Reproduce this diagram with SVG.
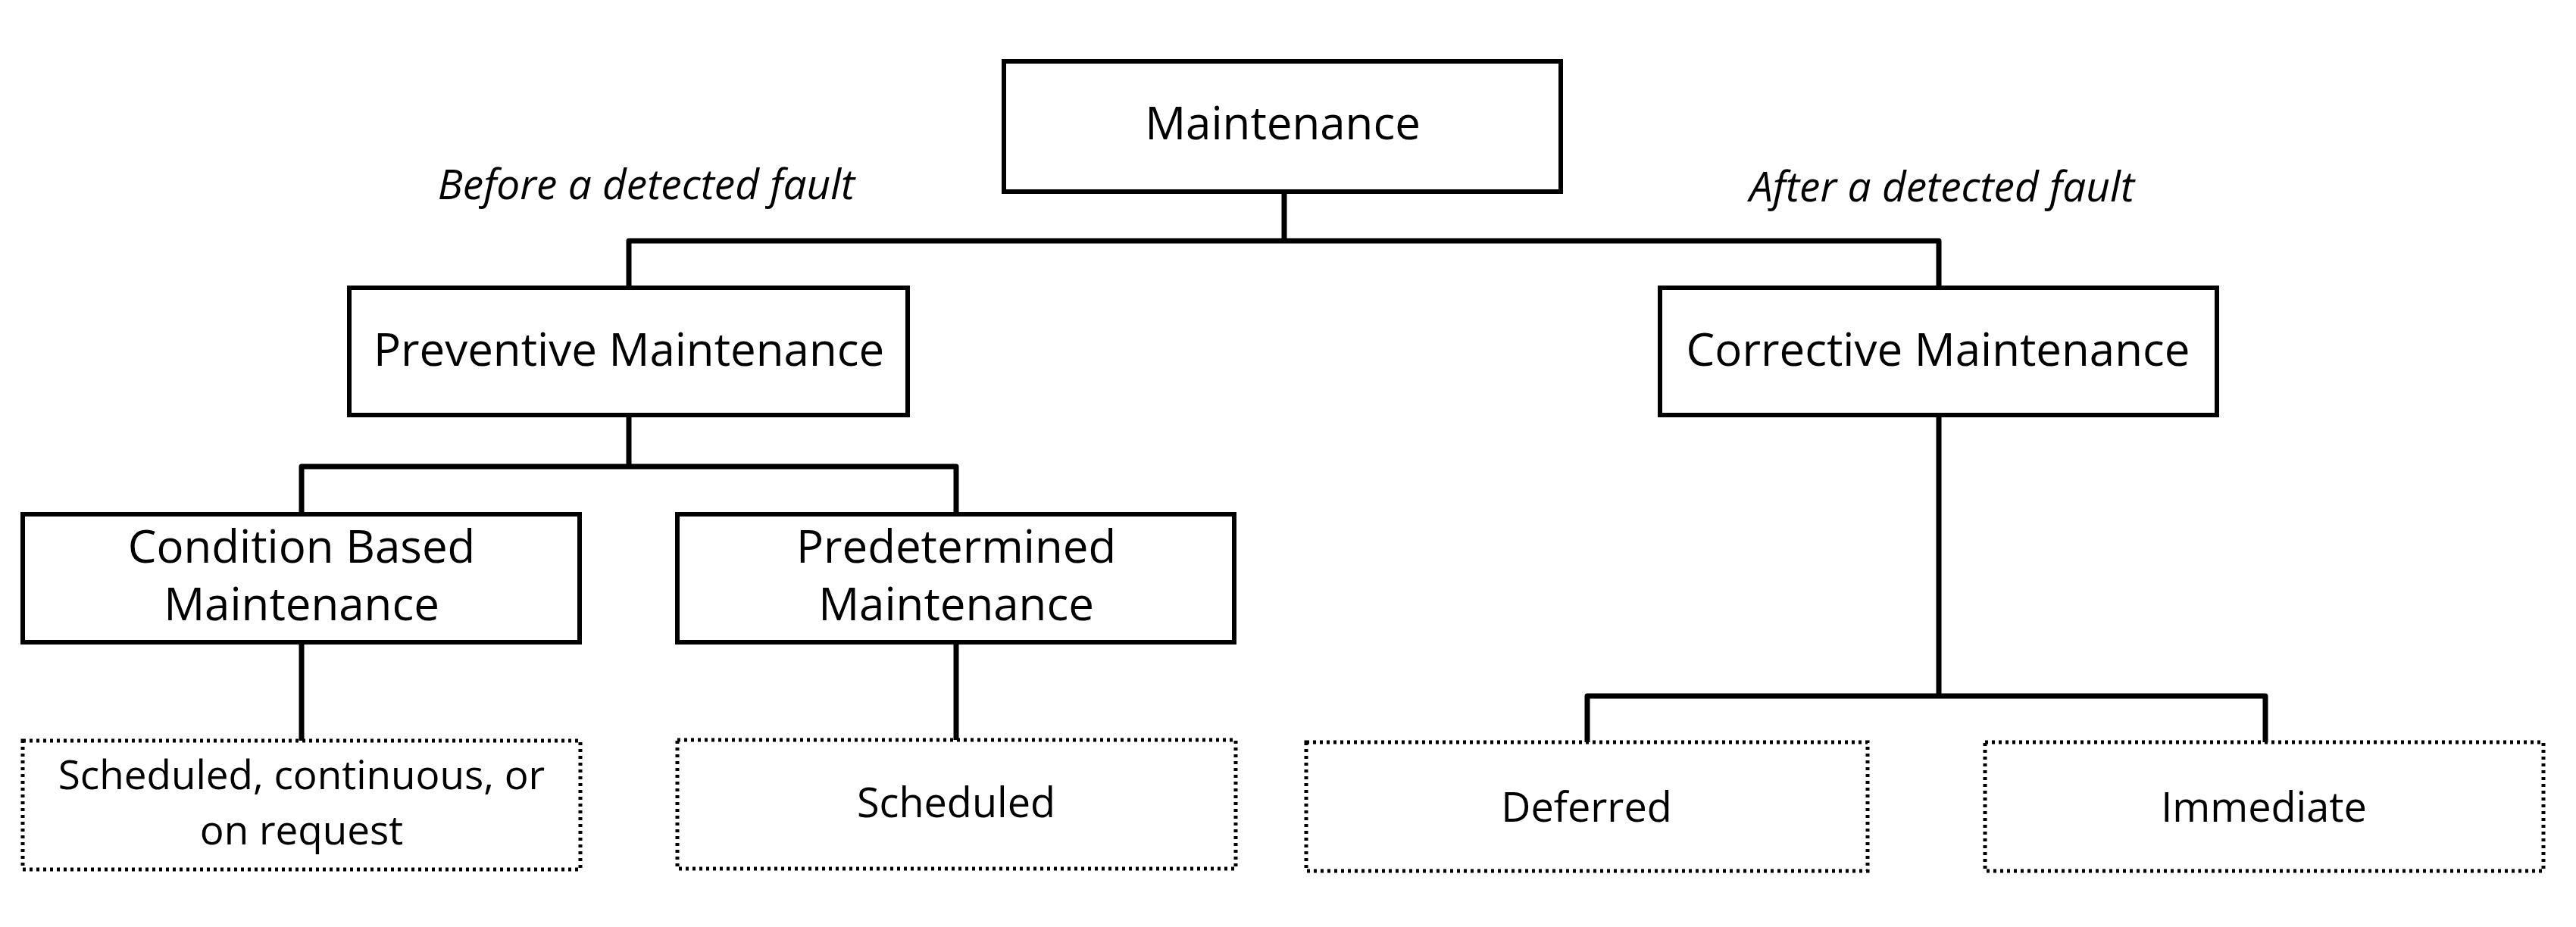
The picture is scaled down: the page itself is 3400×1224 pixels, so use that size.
<svg xmlns="http://www.w3.org/2000/svg" width="3400" height="1224" viewBox="0 0 3400 1224">
<style>
  .box { fill: #fff; stroke: #000; stroke-width: 6; }
  .dot { fill: #fff; stroke: #000; stroke-width: 5; stroke-dasharray: 4 5; }
  .t { font-family: "Open Sans", "Noto Sans", sans-serif; font-size: 60px; fill: #000; text-anchor: middle; }
  .s { font-family: "Open Sans", "Noto Sans", sans-serif; font-size: 54px; fill: #000; text-anchor: middle; }
  .i { font-family: "Open Sans", "Noto Sans", sans-serif; font-size: 55px; font-style: italic; fill: #000; text-anchor: middle; }
  .c { fill: none; stroke: #000; stroke-width: 7; stroke-linejoin: round; }
</style>
<rect width="3400" height="1224" fill="#fff"/>
<g id="connectors">
  <path class="c" d="M1695 253 V318"/>
  <path class="c" d="M830 380 V318 H2559 V380"/>
  <path class="c" d="M830 548 V616"/>
  <path class="c" d="M398 679 V616 H1262 V679"/>
  <path class="c" d="M398 848 V978"/>
  <path class="c" d="M1262 848 V977"/>
  <path class="c" d="M2559 548 V919"/>
  <path class="c" d="M2095 980 V919 H2990 V980"/>
</g>
<g id="label-before"><text class="i" x="853" y="263">Before a detected fault</text></g>
<g id="label-after"><text class="i" x="2563" y="266">After a detected fault</text></g>
<g id="maintenance">
  <rect class="box" x="1325" y="81" width="735" height="172"/>
  <text class="t" x="1693" y="184">Maintenance</text>
</g>
<g id="preventive">
  <rect class="box" x="461" y="380" width="737" height="168"/>
  <text class="t" x="830" y="483">Preventive Maintenance</text>
</g>
<g id="corrective">
  <rect class="box" x="2191" y="380" width="735" height="168"/>
  <text class="t" x="2558" y="483">Corrective Maintenance</text>
</g>
<g id="condition-based">
  <rect class="box" x="30" y="679" width="735" height="169"/>
  <text class="t"><tspan x="398" y="743">Condition Based</tspan><tspan x="398" y="819">Maintenance</tspan></text>
</g>
<g id="predetermined">
  <rect class="box" x="894" y="679" width="735" height="169"/>
  <text class="t"><tspan x="1262" y="743">Predetermined</tspan><tspan x="1262" y="819">Maintenance</tspan></text>
</g>
<g id="scheduled-continuous">
  <rect class="dot" x="30" y="978" width="736" height="170"/>
  <text class="s" style="font-size:53px"><tspan x="398" y="1042">Scheduled, continuous, or</tspan><tspan x="398" y="1115">on request</tspan></text>
</g>
<g id="scheduled">
  <rect class="dot" x="894" y="977" width="737" height="170"/>
  <text class="s" x="1262" y="1079">Scheduled</text>
</g>
<g id="deferred">
  <rect class="dot" x="1724" y="980" width="741" height="170"/>
  <text class="s" x="2094" y="1085">Deferred</text>
</g>
<g id="immediate">
  <rect class="dot" x="2620" y="980" width="737" height="170"/>
  <text class="s" x="2988" y="1085">Immediate</text>
</g>
</svg>
